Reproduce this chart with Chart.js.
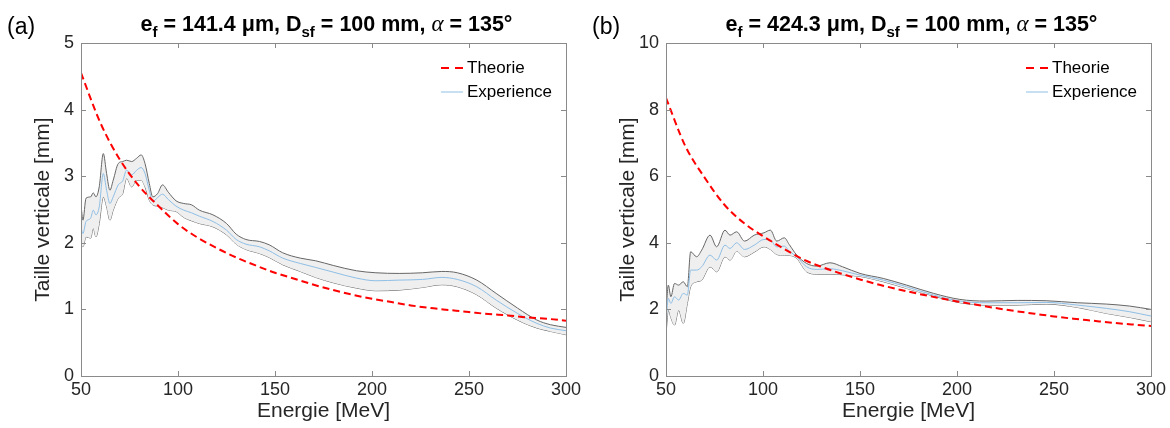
<!DOCTYPE html>
<html>
<head>
<meta charset="utf-8">
<script src="https://cdn.jsdelivr.net/npm/chart.js@4.4.1/dist/chart.umd.min.js"></script>
<style>
  body { margin: 0; background: #fff; }
  #wrap { position: relative; width: 1170px; height: 428px; font-family: "Liberation Sans", Arial, sans-serif; }
  .panel { position: absolute; top: 0; width: 585px; height: 428px; }
  .panel canvas { position: absolute; left: 0; top: 0; }
  .tag { position: absolute; left: 7px; top: 13px; font-size: 23px; line-height: 26px; color: #000; }
  .title { position: absolute; left: 84px; width: 485px; top: 11px; text-align: center; line-height: 26px;
           font-size: 21.5px; font-weight: bold; color: #000; white-space: nowrap; }
  .title sub { font-size: 15px; vertical-align: -6px; line-height: 0; }
  .title i { font-family: "Liberation Serif", serif; font-weight: normal; font-size: 23px; }
</style>
</head>
<body>
<div id="wrap">
  <div class="panel" style="left:0">
    <canvas id="chartA" width="585" height="428"></canvas>
    <div class="tag">(a)</div>
    <div class="title">e<sub>f</sub> = 141.4 μm, D<sub>sf</sub> = 100 mm, <i>α</i> = 135°</div>
  </div>
  <div class="panel" style="left:585px">
    <canvas id="chartB" width="585" height="428"></canvas>
    <div class="tag">(b)</div>
    <div class="title">e<sub>f</sub> = 424.3 μm, D<sub>sf</sub> = 100 mm, <i>α</i> = 135°</div>
  </div>
</div>
<script>
// theory curves (both panels use the same energy grid)
const theoryEnergy = [50, 60, 70, 80, 90, 100, 110, 120, 130, 140, 150, 160, 170, 180, 190, 200, 210, 220, 230, 240, 250, 260, 270, 280, 290, 300];
const theoryA = [4.55, 3.80, 3.25, 2.85, 2.55, 2.28, 2.08, 1.92, 1.78, 1.66, 1.55, 1.46, 1.37, 1.29, 1.22, 1.16, 1.11, 1.06, 1.02, 0.99, 0.96, 0.93, 0.91, 0.88, 0.86, 0.83];
const theoryB = [8.35, 6.90, 5.95, 5.15, 4.60, 4.20, 3.85, 3.52, 3.28, 3.08, 2.90, 2.74, 2.60, 2.47, 2.35, 2.24, 2.14, 2.04, 1.95, 1.87, 1.79, 1.72, 1.66, 1.60, 1.55, 1.50];

// panel (a) measurement: mean and band
const energyA = [50, 51, 52.6, 55, 56.3, 57.7, 59.4, 61.5, 63.2, 64.9, 66.6, 69.2, 71.5, 73.5, 76.1, 78.7, 81, 83, 85.2, 87, 89.5, 92, 95, 99, 103, 107, 111, 118, 125, 130, 135, 142, 147, 154, 163, 171, 180, 192, 202, 214, 226, 236, 244, 254, 264, 275, 285, 292, 300];
const upperA = [2.57, 2.34, 2.67, 2.69, 2.75, 2.69, 2.84, 3.34, 3.04, 2.79, 2.94, 3.19, 3.22, 3.24, 3.22, 3.27, 3.32, 3.19, 2.89, 2.69, 2.74, 2.87, 2.76, 2.63, 2.59, 2.57, 2.49, 2.42, 2.29, 2.13, 2.05, 2.02, 1.97, 1.85, 1.77, 1.73, 1.66, 1.58, 1.55, 1.54, 1.55, 1.57, 1.55, 1.44, 1.24, 1.02, 0.84, 0.77, 0.73];
const meanA  = [2.22, 2.14, 2.32, 2.37, 2.49, 2.42, 2.54, 3.04, 2.79, 2.59, 2.69, 2.87, 2.93, 3.09, 3.02, 3.09, 3.13, 3.04, 2.79, 2.62, 2.68, 2.73, 2.65, 2.55, 2.49, 2.45, 2.40, 2.32, 2.19, 2.05, 1.98, 1.94, 1.88, 1.77, 1.69, 1.63, 1.56, 1.47, 1.43, 1.44, 1.45, 1.48, 1.45, 1.34, 1.14, 0.94, 0.79, 0.72, 0.68];
const lowerA = [1.97, 1.94, 2.09, 2.07, 2.22, 2.09, 2.29, 2.69, 2.54, 2.34, 2.49, 2.67, 2.74, 2.97, 2.84, 2.94, 2.94, 2.84, 2.64, 2.57, 2.55, 2.53, 2.49, 2.47, 2.38, 2.33, 2.29, 2.24, 2.12, 1.98, 1.90, 1.84, 1.78, 1.67, 1.57, 1.48, 1.40, 1.32, 1.28, 1.29, 1.33, 1.37, 1.34, 1.22, 1.02, 0.84, 0.72, 0.67, 0.62];

// panel (b) measurement: mean and band
const energyB = [50, 51.2, 52.5, 54.4, 56.5, 58.9, 61, 62.7, 65.8, 68.4, 72.7, 76.1, 80.4, 83, 86.4, 90.5, 95.5, 100.5, 103.8, 107.1, 111, 113.5, 117.4, 122.5, 127.7, 134.5, 141, 150, 162, 174, 188, 201.5, 215, 231, 246, 262, 277, 289, 300];
const upperB = [1.90, 2.73, 2.38, 2.78, 2.73, 2.83, 2.68, 3.73, 3.58, 3.78, 4.23, 3.88, 4.38, 4.23, 4.33, 4.05, 4.23, 4.30, 4.38, 4.05, 4.15, 3.95, 3.63, 3.38, 3.30, 3.40, 3.28, 3.08, 2.93, 2.73, 2.48, 2.30, 2.25, 2.27, 2.26, 2.20, 2.16, 2.10, 2.00];
const meanB  = [1.60, 2.33, 2.18, 2.38, 2.28, 2.48, 2.43, 3.18, 3.18, 3.28, 3.63, 3.48, 3.93, 3.83, 4.00, 3.80, 3.93, 4.10, 4.08, 3.88, 3.90, 3.75, 3.58, 3.28, 3.20, 3.22, 3.16, 3.03, 2.88, 2.68, 2.43, 2.25, 2.20, 2.20, 2.21, 2.13, 2.03, 1.93, 1.80];
const lowerB = [1.25, 1.98, 1.75, 1.53, 1.98, 1.58, 2.18, 2.68, 2.83, 2.88, 3.28, 3.13, 3.58, 3.48, 3.75, 3.58, 3.72, 3.88, 3.80, 3.65, 3.62, 3.62, 3.53, 3.13, 3.06, 3.06, 3.04, 2.99, 2.83, 2.63, 2.40, 2.20, 2.13, 2.13, 2.16, 2.06, 1.88, 1.76, 1.63];

const xTicks = [50, 100, 150, 200, 250, 300];
const legendLabels = ['Theorie', 'Experience'];

const AXIS_GREY = '#8a8a8a';
const TEXT = '#262626';
const FONT = '"Liberation Sans", Arial, sans-serif';

const pts = (xs, ys) => xs.map((x, i) => ({ x: x, y: ys[i] }));

// MATLAB style box with inward ticks + legend without frame
const boxPlugin = {
  id: 'box',
  afterDatasetsDraw(chart) {
    const { ctx, chartArea: a, scales } = chart;
    ctx.save();
    ctx.strokeStyle = AXIS_GREY;
    ctx.lineWidth = 1;
    ctx.strokeRect(a.left + 0.5, a.top + 0.5, a.right - a.left, a.bottom - a.top);
    const len = 5;
    ctx.beginPath();
    scales.x.ticks.forEach(t => {
      const px = Math.round(scales.x.getPixelForValue(t.value)) + 0.5;
      ctx.moveTo(px, a.bottom); ctx.lineTo(px, a.bottom - len);
      ctx.moveTo(px, a.top); ctx.lineTo(px, a.top + len);
    });
    scales.y.ticks.forEach(t => {
      const py = Math.round(scales.y.getPixelForValue(t.value)) + 0.5;
      ctx.moveTo(a.left, py); ctx.lineTo(a.left + len, py);
      ctx.moveTo(a.right, py); ctx.lineTo(a.right - len, py);
    });
    ctx.stroke();

    // legend
    const lx = a.right - 125, ly = a.top + 25;
    ctx.font = '17px ' + FONT;
    ctx.fillStyle = '#000';
    ctx.textBaseline = 'middle';
    ctx.lineWidth = 2;
    ctx.strokeStyle = '#ff0000';
    ctx.setLineDash([8, 6]);
    ctx.beginPath(); ctx.moveTo(lx, ly); ctx.lineTo(lx + 22, ly); ctx.stroke();
    ctx.setLineDash([]);
    ctx.lineWidth = 1;
    ctx.strokeStyle = '#8fbfe6';
    ctx.beginPath(); ctx.moveTo(lx, ly + 24); ctx.lineTo(lx + 22, ly + 24); ctx.stroke();
    ctx.fillText(legendLabels[0], lx + 26, ly);
    ctx.fillText(legendLabels[1], lx + 26, ly + 24);
    ctx.restore();
  }
};

function makePanel(id, theory, energy, upper, mean, lower, yMax, yStep) {
  new Chart(document.getElementById(id), {
    type: 'line',
    data: {
      datasets: [
        { label: 'Theorie', data: pts(theoryEnergy, theory), borderColor: '#ff0000', borderWidth: 2,
          borderDash: [7, 4], pointRadius: 0, fill: false, cubicInterpolationMode: 'monotone' },
        { label: 'Experience', data: pts(energy, mean), borderColor: '#8fbfe6', borderWidth: 1,
          pointRadius: 0, fill: false, cubicInterpolationMode: 'monotone' },
        { label: 'haut', data: pts(energy, upper), borderColor: '#666666', borderWidth: 1,
          pointRadius: 0, fill: '+1', backgroundColor: '#efefef', cubicInterpolationMode: 'monotone' },
        { label: 'bas', data: pts(energy, lower), borderColor: '#666666', borderWidth: 1,
          pointRadius: 0, fill: false, cubicInterpolationMode: 'monotone' }
      ]
    },
    options: {
      responsive: false,
      animation: false,
      events: [],
      layout: { padding: { left: 0, right: 19, top: 43, bottom: 0 } },
      plugins: { legend: { display: false }, tooltip: { enabled: false } },
      scales: {
        x: {
          type: 'linear', min: 50, max: 300,
          afterBuildTicks: s => { s.ticks = xTicks.map(v => ({ value: v })); },
          ticks: { font: { size: 18, family: FONT }, color: TEXT, padding: 3, maxRotation: 0 },
          grid: { display: false, drawTicks: false },
          border: { display: false },
          title: { display: true, text: 'Energie [MeV]', font: { size: 21, family: FONT }, color: TEXT, padding: { top: 3 } },
          afterFit: s => { s.height = 52; }
        },
        y: {
          min: 0, max: yMax,
          ticks: { stepSize: yStep, font: { size: 18, family: FONT }, color: TEXT, padding: 7 },
          grid: { display: false, drawTicks: false },
          border: { display: false },
          title: { display: true, text: 'Taille verticale [mm]', font: { size: 21, family: FONT }, color: TEXT, padding: { top: 31 } },
          afterFit: s => { s.width = 81; }
        }
      }
    },
    plugins: [boxPlugin]
  });
}

makePanel('chartA', theoryA, energyA, upperA, meanA, lowerA, 5, 1);
makePanel('chartB', theoryB, energyB, upperB, meanB, lowerB, 10, 2);
</script>
</body>
</html>
